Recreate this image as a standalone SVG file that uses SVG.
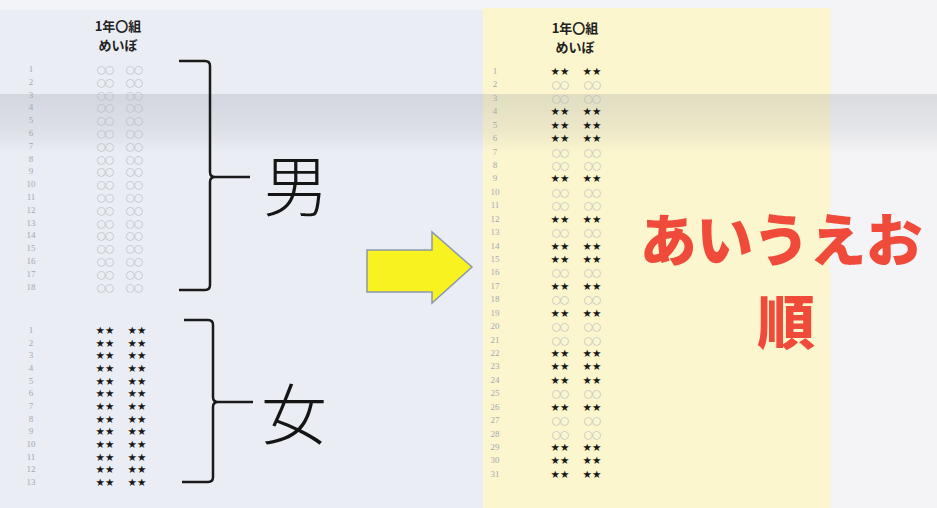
<svg xmlns="http://www.w3.org/2000/svg" width="937" height="508" viewBox="0 0 937 508">
<defs>
<style>
.num{font-family:"Liberation Serif",serif;font-size:9px;fill:#a4a8b0;text-anchor:middle;dominant-baseline:central}
.cir{font-family:"DejaVu Sans",sans-serif;font-size:10.5px;fill:#b8bcc4;text-anchor:middle;dominant-baseline:central;letter-spacing:-1px}
.star{font-family:"DejaVu Sans",sans-serif;font-size:10.5px;fill:#1a1a1a;text-anchor:middle;dominant-baseline:central;letter-spacing:0px}
.hdr{font-family:"Noto Sans CJK JP",sans-serif;font-size:13px;font-weight:700;fill:#222;text-anchor:middle}
.brace{fill:none;stroke:#1a1a1a;stroke-width:2.5;stroke-linejoin:round}
.big{font-family:"Noto Sans CJK JP",sans-serif;font-size:66px;font-weight:300;fill:#151515;text-anchor:middle}
.red{font-family:"Noto Sans CJK JP",sans-serif;font-weight:900;fill:#ef4a3a;text-anchor:middle}
</style>
<linearGradient id="band" x1="0" y1="0" x2="0" y2="1">
<stop offset="0" stop-color="#8a8f99" stop-opacity="0.24"/>
<stop offset="0.6" stop-color="#8a8f99" stop-opacity="0.14"/>
<stop offset="1" stop-color="#8a8f99" stop-opacity="0"/>
</linearGradient>
</defs>
<g id="background">
<rect x="0" y="0" width="937" height="508" fill="#eaedf4"/>
<rect x="0" y="0" width="937" height="10" fill="#f3f4f8"/>
<rect x="830" y="0" width="107" height="508" fill="#f4f4f6"/>
<rect x="483" y="8" width="347" height="500" fill="#fcf6cf"/>
<rect x="0" y="94" width="937" height="60" fill="url(#band)"/>
</g>
<g id="left-list">
<text class="hdr" x="118" y="31">1年〇組</text>
<text class="hdr" x="118" y="50">めいぼ</text>
<g id="boys">
<text class="num" x="31" y="69">1</text><text class="cir" x="105" y="69">○○</text><text class="cir" x="134" y="69">○○</text>
<text class="num" x="31" y="82">2</text><text class="cir" x="105" y="82">○○</text><text class="cir" x="134" y="82">○○</text>
<text class="num" x="31" y="95">3</text><text class="cir" x="105" y="95">○○</text><text class="cir" x="134" y="95">○○</text>
<text class="num" x="31" y="107">4</text><text class="cir" x="105" y="107">○○</text><text class="cir" x="134" y="107">○○</text>
<text class="num" x="31" y="120">5</text><text class="cir" x="105" y="120">○○</text><text class="cir" x="134" y="120">○○</text>
<text class="num" x="31" y="133">6</text><text class="cir" x="105" y="133">○○</text><text class="cir" x="134" y="133">○○</text>
<text class="num" x="31" y="146">7</text><text class="cir" x="105" y="146">○○</text><text class="cir" x="134" y="146">○○</text>
<text class="num" x="31" y="159">8</text><text class="cir" x="105" y="159">○○</text><text class="cir" x="134" y="159">○○</text>
<text class="num" x="31" y="171">9</text><text class="cir" x="105" y="171">○○</text><text class="cir" x="134" y="171">○○</text>
<text class="num" x="31" y="184">10</text><text class="cir" x="105" y="184">○○</text><text class="cir" x="134" y="184">○○</text>
<text class="num" x="31" y="197">11</text><text class="cir" x="105" y="197">○○</text><text class="cir" x="134" y="197">○○</text>
<text class="num" x="31" y="210">12</text><text class="cir" x="105" y="210">○○</text><text class="cir" x="134" y="210">○○</text>
<text class="num" x="31" y="223">13</text><text class="cir" x="105" y="223">○○</text><text class="cir" x="134" y="223">○○</text>
<text class="num" x="31" y="235">14</text><text class="cir" x="105" y="235">○○</text><text class="cir" x="134" y="235">○○</text>
<text class="num" x="31" y="248">15</text><text class="cir" x="105" y="248">○○</text><text class="cir" x="134" y="248">○○</text>
<text class="num" x="31" y="261">16</text><text class="cir" x="105" y="261">○○</text><text class="cir" x="134" y="261">○○</text>
<text class="num" x="31" y="274">17</text><text class="cir" x="105" y="274">○○</text><text class="cir" x="134" y="274">○○</text>
<text class="num" x="31" y="287">18</text><text class="cir" x="105" y="287">○○</text><text class="cir" x="134" y="287">○○</text>
</g>
<g id="girls">
<text class="num" x="31" y="330">1</text><text class="star" x="105" y="330">★★</text><text class="star" x="137" y="330">★★</text>
<text class="num" x="31" y="343">2</text><text class="star" x="105" y="343">★★</text><text class="star" x="137" y="343">★★</text>
<text class="num" x="31" y="355">3</text><text class="star" x="105" y="355">★★</text><text class="star" x="137" y="355">★★</text>
<text class="num" x="31" y="368">4</text><text class="star" x="105" y="368">★★</text><text class="star" x="137" y="368">★★</text>
<text class="num" x="31" y="381">5</text><text class="star" x="105" y="381">★★</text><text class="star" x="137" y="381">★★</text>
<text class="num" x="31" y="393">6</text><text class="star" x="105" y="393">★★</text><text class="star" x="137" y="393">★★</text>
<text class="num" x="31" y="406">7</text><text class="star" x="105" y="406">★★</text><text class="star" x="137" y="406">★★</text>
<text class="num" x="31" y="419">8</text><text class="star" x="105" y="419">★★</text><text class="star" x="137" y="419">★★</text>
<text class="num" x="31" y="431">9</text><text class="star" x="105" y="431">★★</text><text class="star" x="137" y="431">★★</text>
<text class="num" x="31" y="444">10</text><text class="star" x="105" y="444">★★</text><text class="star" x="137" y="444">★★</text>
<text class="num" x="31" y="457">11</text><text class="star" x="105" y="457">★★</text><text class="star" x="137" y="457">★★</text>
<text class="num" x="31" y="469">12</text><text class="star" x="105" y="469">★★</text><text class="star" x="137" y="469">★★</text>
<text class="num" x="31" y="482">13</text><text class="star" x="105" y="482">★★</text><text class="star" x="137" y="482">★★</text>
</g>
</g>
<g id="connectors">
<path class="brace" d="M179,61 L205,61 Q210,61 210,66 L210,172 Q210,177 215,177 L250,177 M215,177 Q210,177 210,182 L210,285 Q210,290 205,290 L179,290"/>
<path class="brace" d="M184,320 L208,320 Q213,320 213,325 L213,397 Q213,402 218,402 L253,402 M218,402 Q213,402 213,407 L213,477 Q213,482 208,482 L182,482"/>
<path id="arrow" d="M367,250 L432,250 L432,232 L472,267 L432,303 L432,292 L367,292 Z" fill="#f7f220" stroke="#8c98b0" stroke-width="1.5" stroke-linejoin="miter"/>
</g>
<g id="label-boys"><text class="big" x="296" y="211">男</text></g>
<g id="label-girls"><text class="big" x="294" y="439">女</text></g>
<g id="right-list">
<text class="hdr" x="575" y="33">1年〇組</text>
<text class="hdr" x="575" y="52">めいぼ</text>
<text class="num" x="495" y="71">1</text><text class="star" x="560" y="71">★★</text><text class="star" x="592" y="71">★★</text>
<text class="num" x="495" y="84">2</text><text class="cir" x="560" y="84">○○</text><text class="cir" x="592" y="84">○○</text>
<text class="num" x="495" y="98">3</text><text class="cir" x="560" y="98">○○</text><text class="cir" x="592" y="98">○○</text>
<text class="num" x="495" y="111">4</text><text class="star" x="560" y="111">★★</text><text class="star" x="592" y="111">★★</text>
<text class="num" x="495" y="125">5</text><text class="star" x="560" y="125">★★</text><text class="star" x="592" y="125">★★</text>
<text class="num" x="495" y="138">6</text><text class="star" x="560" y="138">★★</text><text class="star" x="592" y="138">★★</text>
<text class="num" x="495" y="152">7</text><text class="cir" x="560" y="152">○○</text><text class="cir" x="592" y="152">○○</text>
<text class="num" x="495" y="165">8</text><text class="cir" x="560" y="165">○○</text><text class="cir" x="592" y="165">○○</text>
<text class="num" x="495" y="178">9</text><text class="star" x="560" y="178">★★</text><text class="star" x="592" y="178">★★</text>
<text class="num" x="495" y="192">10</text><text class="cir" x="560" y="192">○○</text><text class="cir" x="592" y="192">○○</text>
<text class="num" x="495" y="205">11</text><text class="cir" x="560" y="205">○○</text><text class="cir" x="592" y="205">○○</text>
<text class="num" x="495" y="219">12</text><text class="star" x="560" y="219">★★</text><text class="star" x="592" y="219">★★</text>
<text class="num" x="495" y="232">13</text><text class="cir" x="560" y="232">○○</text><text class="cir" x="592" y="232">○○</text>
<text class="num" x="495" y="246">14</text><text class="star" x="560" y="246">★★</text><text class="star" x="592" y="246">★★</text>
<text class="num" x="495" y="259">15</text><text class="star" x="560" y="259">★★</text><text class="star" x="592" y="259">★★</text>
<text class="num" x="495" y="272">16</text><text class="cir" x="560" y="272">○○</text><text class="cir" x="592" y="272">○○</text>
<text class="num" x="495" y="286">17</text><text class="star" x="560" y="286">★★</text><text class="star" x="592" y="286">★★</text>
<text class="num" x="495" y="299">18</text><text class="cir" x="560" y="299">○○</text><text class="cir" x="592" y="299">○○</text>
<text class="num" x="495" y="313">19</text><text class="star" x="560" y="313">★★</text><text class="star" x="592" y="313">★★</text>
<text class="num" x="495" y="326">20</text><text class="cir" x="560" y="326">○○</text><text class="cir" x="592" y="326">○○</text>
<text class="num" x="495" y="340">21</text><text class="cir" x="560" y="340">○○</text><text class="cir" x="592" y="340">○○</text>
<text class="num" x="495" y="353">22</text><text class="star" x="560" y="353">★★</text><text class="star" x="592" y="353">★★</text>
<text class="num" x="495" y="366">23</text><text class="star" x="560" y="366">★★</text><text class="star" x="592" y="366">★★</text>
<text class="num" x="495" y="380">24</text><text class="star" x="560" y="380">★★</text><text class="star" x="592" y="380">★★</text>
<text class="num" x="495" y="393">25</text><text class="cir" x="560" y="393">○○</text><text class="cir" x="592" y="393">○○</text>
<text class="num" x="495" y="407">26</text><text class="star" x="560" y="407">★★</text><text class="star" x="592" y="407">★★</text>
<text class="num" x="495" y="420">27</text><text class="cir" x="560" y="420">○○</text><text class="cir" x="592" y="420">○○</text>
<text class="num" x="495" y="434">28</text><text class="cir" x="560" y="434">○○</text><text class="cir" x="592" y="434">○○</text>
<text class="num" x="495" y="447">29</text><text class="star" x="560" y="447">★★</text><text class="star" x="592" y="447">★★</text>
<text class="num" x="495" y="460">30</text><text class="star" x="560" y="460">★★</text><text class="star" x="592" y="460">★★</text>
<text class="num" x="495" y="474">31</text><text class="star" x="560" y="474">★★</text><text class="star" x="592" y="474">★★</text>
</g>
<g id="label-order">
<text class="red" x="781" y="261" font-size="57" letter-spacing="-0.5">あいうえお</text>
<text class="red" x="786" y="344" font-size="58">順</text>
</g>
</svg>
